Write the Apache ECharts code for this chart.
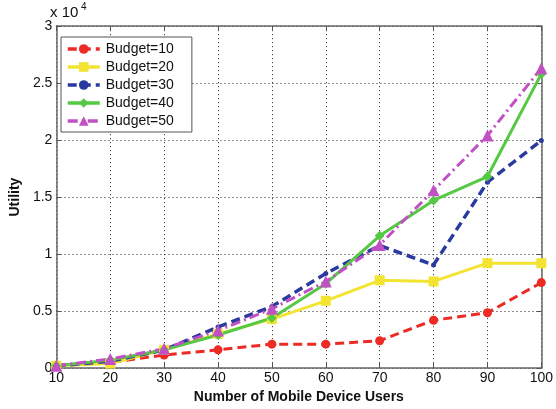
<!DOCTYPE html>
<html>
<head>
<meta charset="utf-8">
<script src="https://cdn.jsdelivr.net/npm/echarts@6/dist/echarts.min.js"></script>
<style>
  html, body { margin: 0; padding: 0; background: #fff; }
  #chart { width: 556px; height: 409px; }
</style>
</head>
<body>
<div id="chart"></div>
<script>
// Number of mobile device users on the x axis
const users = [10, 20, 30, 40, 50, 60, 70, 80, 90, 100];

// Utility for each budget level
const budget10 = [200, 500, 1150, 1600, 2100, 2100, 2400, 4200, 4850, 7500];
const budget20 = [200, 400, 1600, 3000, 4300, 5900, 7700, 7600, 9200, 9200];
const budget30 = [200, 600, 1600, 3600, 5400, 8300, 10750, 9050, 16300, 19950];
const budget40 = [200, 700, 1600, 2900, 4400, 7400, 11600, 14700, 16800, 25800];
const budget50 = [200, 800, 1700, 3300, 5200, 7600, 10800, 15600, 20400, 26300];

const yTicks = [0, 5000, 10000, 15000, 20000, 25000, 30000];

const FONT = 'Liberation Sans, Arial, sans-serif';

const chart = echarts.init(document.getElementById('chart'));

function makeSeries(name, data, color, symbol, size, lineType, width) {
  return {
    name: name,
    type: 'line',
    data: users.map((u, i) => [u, data[i]]),
    symbol: symbol,
    symbolSize: size,
    showAllSymbol: true,
    lineStyle: { color: color, width: width || 3, type: lineType },
    itemStyle: { color: color, borderColor: color, borderWidth: 0 },
    emphasis: { disabled: true },
    z: 3
  };
}

const innerTick = { show: true, inside: true, length: 5, lineStyle: { color: '#555', width: 1 } };
const frameLine = { show: true, onZero: false, lineStyle: { color: '#666', width: 1.5 } };
const dotted = { show: true, lineStyle: { color: '#444', type: [1.2, 2.8], width: 1 } };

chart.setOption({
  animation: false,
  backgroundColor: '#fff',
  grid: { left: 47, right: 12, top: 26, bottom: 35, containLabel: false },
  legend: {
    show: true,
    orient: 'vertical',
    left: 61,
    top: 37,
    itemWidth: 32,
    itemHeight: 12,
    itemGap: 4,
    padding: [5, 18, 4, 5],
    backgroundColor: '#fff',
    borderColor: '#555',
    borderWidth: 1,
    lineStyle: { width: 3.5 },
    textStyle: { fontFamily: FONT, fontSize: 14, color: '#111', padding: [0, 0, 0, 1] },
    data: ['Budget=10', 'Budget=20', 'Budget=30', 'Budget=40', 'Budget=50']
  },
  xAxis: [{
    type: 'value',
    min: 10, max: 100, interval: 10,
    name: 'Number of Mobile Device Users',
    nameLocation: 'middle',
    nameGap: 20,
    nameTextStyle: { fontFamily: FONT, fontSize: 14, fontWeight: 'bold', color: '#111' },
    axisLine: frameLine,
    axisTick: innerTick,
    axisLabel: { fontFamily: FONT, fontSize: 14, color: '#111', margin: 3 },
    splitLine: dotted
  }, {
    type: 'value',
    position: 'top',
    min: 10, max: 100, interval: 10,
    axisLine: frameLine,
    axisTick: innerTick,
    axisLabel: { show: false },
    splitLine: { show: false }
  }],
  yAxis: [{
    type: 'value',
    min: 0, max: 30000, interval: 5000,
    name: 'Utility',
    nameLocation: 'middle',
    nameGap: 30,
    nameRotate: 90,
    nameTextStyle: { fontFamily: FONT, fontSize: 14, fontWeight: 'bold', color: '#111' },
    axisLine: frameLine,
    axisTick: innerTick,
    axisLabel: {
      fontFamily: FONT, fontSize: 14, color: '#111', margin: 4,
      formatter: v => (yTicks.includes(v) ? String(v / 10000) : '')
    },
    splitLine: dotted
  }, {
    type: 'value',
    position: 'right',
    min: 0, max: 30000, interval: 5000,
    axisLine: frameLine,
    axisTick: innerTick,
    axisLabel: { show: false },
    splitLine: { show: false }
  }],
  graphic: [{
    type: 'text',
    left: 50, top: 5,
    style: { text: 'x 10', font: '15px ' + FONT, fill: '#111' }
  }, {
    type: 'text',
    left: 81, top: 2,
    style: { text: '4', font: '10px ' + FONT, fill: '#111' }
  }],
  series: [
    makeSeries('Budget=10', budget10, '#ec2b25', 'circle', 9, [9, 5], 3),
    makeSeries('Budget=20', budget20, '#f2e431', 'rect', 10, 'solid', 3),
    makeSeries('Budget=30', budget30, '#2b3a9e', 'circle', 5, [9, 5], 3.5),
    makeSeries('Budget=40', budget40, '#55c943', 'diamond', 10, 'solid', 3),
    makeSeries('Budget=50', budget50, '#c150c4', 'triangle', 12, [10, 4, 2, 4], 3)
  ]
});
</script>
</body>
</html>
